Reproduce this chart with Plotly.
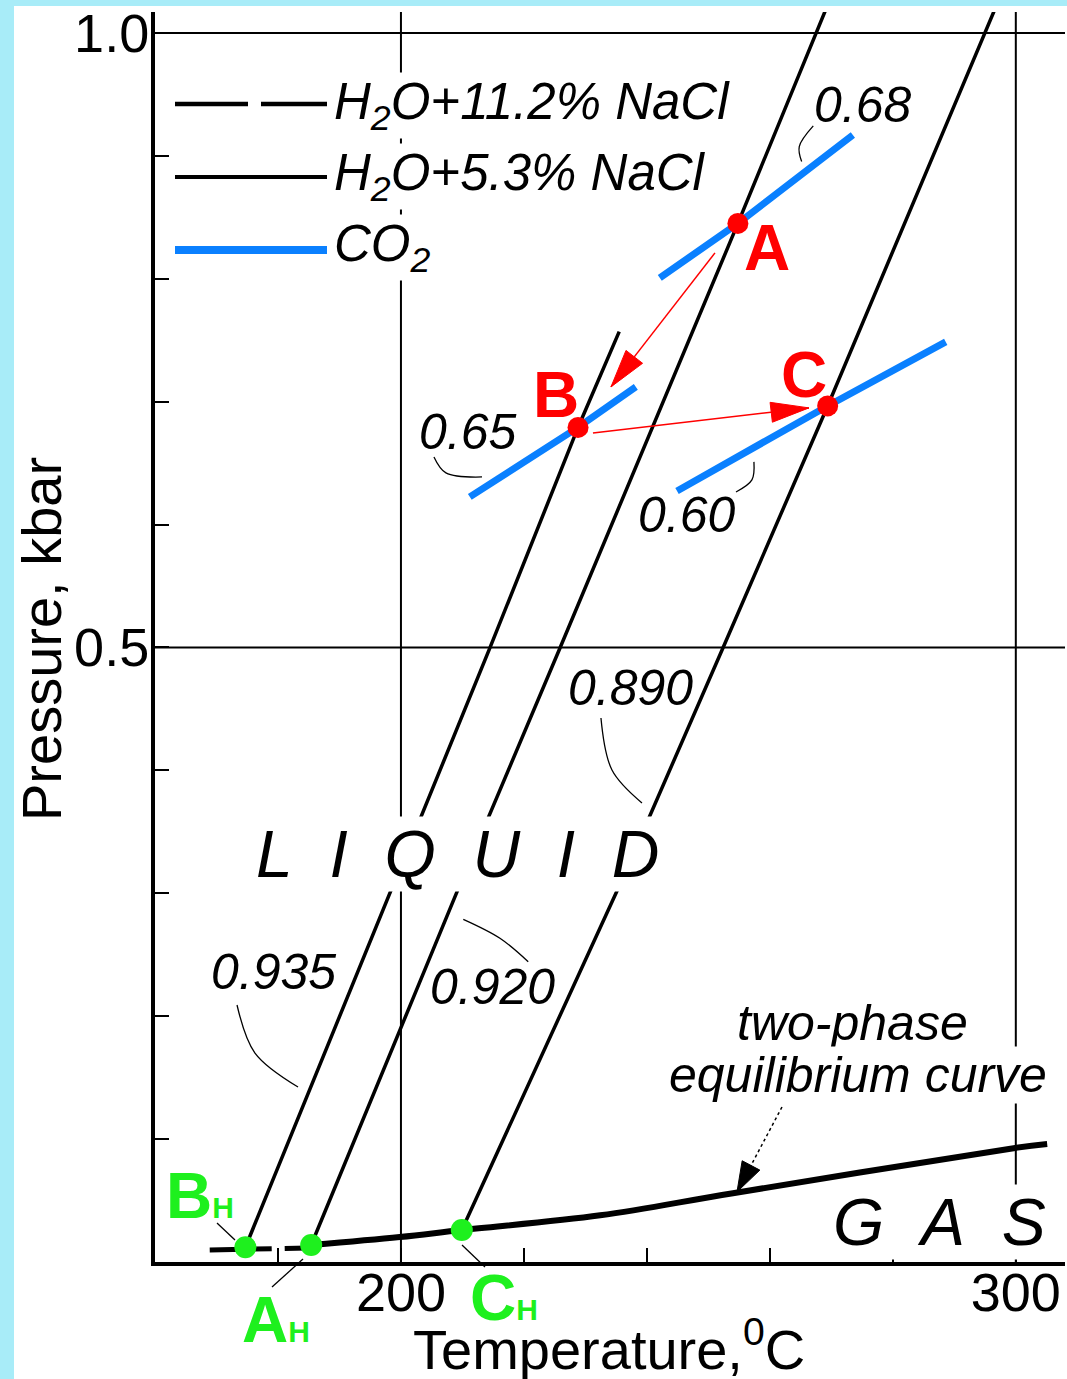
import math
import plotly.graph_objects as go

FONT = "Liberation Sans, Arial, Helvetica, sans-serif"

# ---------------- data (T in °C, P in kbar) ----------------
# isochores of the NaCl solutions (density labels)
iso_labels = ["0.935", "0.920", "0.890"]
iso1_T = [174.7, 198.7, 214.5, 228.8, 235.5]
iso1_P = [0.012, 0.307, 0.500, 0.679, 0.757]
iso2_T = [185.4, 209.6, 225.9, 254.8, 270.0]
iso2_P = [0.0138, 0.307, 0.500, 0.845, 1.030]
iso3_T = [209.9, 235.6, 252.4, 269.4, 297.5]
iso3_P = [0.026, 0.307, 0.500, 0.6965, 1.030]

# two-phase (liquid-gas) equilibrium curve
twophase_T = [185.4, 199.8, 209.9, 232.4, 254.0, 299.9, 305.1]
twophase_P = [0.0138, 0.0203, 0.026, 0.038, 0.056, 0.0928, 0.096]
twophase_112_T = [168.9, 186.8]
twophase_112_P = [0.0098, 0.0115]

# CO2 isochores
co2_labels = ["0.68", "0.65", "0.60"]
co2_068_T = [242.1, 254.8, 273.5]
co2_068_P = [0.8007, 0.845, 0.917]
co2_065_T = [211.2, 228.8, 238.2]
co2_065_P = [0.6225, 0.679, 0.712]
co2_060_T = [244.9, 269.4, 288.6]
co2_060_P = [0.6273, 0.6965, 0.7486]

# trapping points and homogenisation points
red_names = ["A", "B", "C"]
red_T = [254.8, 228.8, 269.4]
red_P = [0.845, 0.679, 0.6965]
green_names = ["B", "A", "C"]
green_T = [174.7, 185.4, 209.9]
green_P = [0.012, 0.0138, 0.026]

# arrows (tail -> tip)
arrow_AB = [(251.07, 0.821), (234.16, 0.712)]
arrow_BC = [(231.23, 0.6745), (266.36, 0.6949)]
arrow_2ph = [(261.97, 0.1261), (254.65, 0.0570)]

# curved leader lines from labels to curves
leaders = [
    ([265.17, 264.78, 267.06], [0.8953, 0.9075, 0.9243]),   # 0.68
    ([205.37, 207.32, 213.18], [0.655, 0.642, 0.6387]),     # 0.65
    ([257.41, 257.08, 254.49], [0.651, 0.6363, 0.6265]),    # 0.60
    ([232.53, 234.32, 239.20], [0.4426, 0.4003, 0.3735]),   # 0.890
    ([210.14, 216.10, 220.70], [0.2788, 0.2634, 0.2443]),   # 0.920
    ([173.34, 176.26, 183.26], [0.2091, 0.170, 0.1424]),    # 0.935
]
# straight leaders for the homogenisation labels (start, end)
hleaders = [
    ((170.08, 0.0317), (173.01, 0.0179)),
    ((179.03, -0.0203), (184.07, 0.0024)),
    ((209.93, 0.0138), (213.67, -0.0041)),
]

x_tickvals = [200, 300]
x_ticktext = ["200", "300"]
x_minor = [180, 220, 240, 260, 280]
y_tickvals = [0.5, 1.0]
y_ticktext = ["0.5", "1.0"]
y_minor = [0.1, 0.2, 0.3, 0.4, 0.6, 0.7, 0.8, 0.9]
x_grid = [200, 300]
y_grid = [0.5, 1.0]

# ---------------- layout geometry ----------------
X_RANGE = [160, 308]
Y_RANGE = [0, 1.017]
W, H = 1067, 1379
ML, MR, MT, MB = 155, 2, 12, 117
PW = W - ML - MR
PH = H - MT - MB
SX = PW / (X_RANGE[1] - X_RANGE[0])
SY = PH / (Y_RANGE[1] - Y_RANGE[0])


def head_path(tail, tip, length, width):
    tx, ty = tail
    hx, hy = tip
    dx = (hx - tx) * SX
    dy = (hy - ty) * SY
    n = math.hypot(dx, dy)
    ux, uy = dx / n, dy / n
    bx = hx * SX - ux * length
    by = hy * SY - uy * length
    nx, ny = -uy * width / 2, ux * width / 2
    p1 = ((bx + nx) / SX, (by + ny) / SY)
    p2 = ((bx - nx) / SX, (by - ny) / SY)
    return f"M {hx},{hy} L {p1[0]},{p1[1]} L {p2[0]},{p2[1]} Z"


def to_paper(T, P):
    return ((T - X_RANGE[0]) / (X_RANGE[1] - X_RANGE[0]),
            (P - Y_RANGE[0]) / (Y_RANGE[1] - Y_RANGE[0]))


fig = go.Figure()

BLACK = "black"
BLUE = "#0a80ff"
RED = "#ff0000"
GREEN = "#1ef01e"

# isochores
for T, P in [(iso1_T, iso1_P), (iso2_T, iso2_P), (iso3_T, iso3_P)]:
    fig.add_trace(go.Scatter(x=T, y=P, mode="lines",
                             line=dict(color=BLACK, width=3.5)))
# two-phase curves
fig.add_trace(go.Scatter(x=twophase_112_T, y=twophase_112_P, mode="lines",
                         line=dict(color=BLACK, width=5, dash="62px,13px")))
fig.add_trace(go.Scatter(x=twophase_T, y=twophase_P, mode="lines",
                         line=dict(color=BLACK, width=6, shape="spline")))
# CO2 isochores
for T, P in [(co2_068_T, co2_068_P), (co2_065_T, co2_065_P), (co2_060_T, co2_060_P)]:
    fig.add_trace(go.Scatter(x=T, y=P, mode="lines",
                             line=dict(color=BLUE, width=7)))
# leaders
for T, P in leaders:
    fig.add_trace(go.Scatter(x=T, y=P, mode="lines",
                             line=dict(color=BLACK, width=1.3, shape="spline")))
# arrow shafts
for (t, h), col, dash in [(arrow_AB, RED, "solid"), (arrow_BC, RED, "solid"),
                          (arrow_2ph, BLACK, "dot")]:
    fig.add_trace(go.Scatter(x=[t[0], h[0]], y=[t[1], h[1]], mode="lines",
                             line=dict(color=col, width=1.5, dash=dash)))
# points
fig.add_trace(go.Scatter(x=red_T, y=red_P, mode="markers",
                         marker=dict(color=RED, size=21)))
fig.add_trace(go.Scatter(x=green_T, y=green_P, mode="markers", cliponaxis=False,
                         marker=dict(color=GREEN, size=22)))

shapes = []
# white drawing sheet on the light blue background
shapes.append(dict(type="rect", xref="paper", yref="paper",
                   x0=(14 - ML) / PW, x1=(W + 5 - ML) / PW,
                   y0=-(H + 5 - MT - PH) / PH, y1=(PH + MT - 6) / PH,
                   fillcolor="white", line=dict(width=0), layer="below"))
# grid lines
for gx in x_grid:
    shapes.append(dict(type="line", xref="x", yref="paper", x0=gx, x1=gx, y0=0, y1=1,
                       line=dict(color=BLACK, width=2), layer="below"))
for gy in y_grid:
    shapes.append(dict(type="line", xref="paper", yref="y", x0=0, x1=1, y0=gy, y1=gy,
                       line=dict(color=BLACK, width=2), layer="below"))
# arrow heads
for (t, h), col, L, Wd in [(arrow_AB, RED, 38, 21), (arrow_BC, RED, 38, 20),
                           (arrow_2ph, BLACK, 30, 20)]:
    shapes.append(dict(type="path", xref="x", yref="y", path=head_path(t, h, L, Wd),
                       fillcolor=col, line=dict(color=col, width=1)))
# straight leaders of the homogenisation labels (cross the axis, so paper refs)
for (s, e) in hleaders:
    x0, y0 = to_paper(*s)
    x1, y1 = to_paper(*e)
    shapes.append(dict(type="line", xref="paper", yref="paper", x0=x0, y0=y0,
                       x1=x1, y1=y1, line=dict(color=BLACK, width=1.3)))


# legend samples (paper coordinates from pixel positions)
def px(xp):
    return (xp - ML) / PW


def py(yp):
    return (MT + PH - yp) / PH


shapes.append(dict(type="line", xref="paper", yref="paper", x0=px(175), x1=px(248),
                   y0=py(104), y1=py(104), line=dict(color=BLACK, width=4.5)))
shapes.append(dict(type="line", xref="paper", yref="paper", x0=px(261), x1=px(327),
                   y0=py(104), y1=py(104), line=dict(color=BLACK, width=4.5)))
shapes.append(dict(type="line", xref="paper", yref="paper", x0=px(175), x1=px(327),
                   y0=py(177), y1=py(177), line=dict(color=BLACK, width=4)))
shapes.append(dict(type="line", xref="paper", yref="paper", x0=px(175), x1=px(327),
                   y0=py(250), y1=py(250), line=dict(color=BLUE, width=8)))

ann = []


def txt(x, y, text, size, color=BLACK, bg=None, xanchor="center", xref="x", yref="y",
        angle=0):
    d = dict(x=x, y=y, xref=xref, yref=yref, text=text, showarrow=False,
             xanchor=xanchor, yanchor="middle", textangle=angle,
             font=dict(family=FONT, size=size, color=color), borderpad=0)
    if bg:
        d["bgcolor"] = bg
    ann.append(d)


def ptxt(T, P, text, size, color=BLACK):
    x, y = to_paper(T, P)
    txt(x, y, text, size, color=color, xref="paper", yref="paper")


NB = "\u00a0"
# legend texts
txt(189.0, 0.9406, "<i>H<sub>2</sub>O+11.2% NaCl</i>", 51, bg="white", xanchor="left")
txt(189.0, 0.8828, "<i>H<sub>2</sub>O+5.3% NaCl</i>", 51, bg="white", xanchor="left")
txt(189.0, 0.825, "<i>CO<sub>2</sub></i>", 51, bg="white", xanchor="left")
# density labels
txt(275.1, 0.9414, f"<i>{co2_labels[0]}</i>", 50)
txt(210.9, 0.6753, f"<i>{co2_labels[1]}</i>", 50)
txt(246.5, 0.6078, f"<i>{co2_labels[2]}</i>", 50)
txt(237.4, 0.467, f"<i>{iso_labels[2]}</i>", 50)
txt(179.35, 0.236, f"<i>{iso_labels[0]}</i>", 50)
txt(214.97, 0.2238, f"<i>{iso_labels[1]}</i>", 50)
# phase regions
sp = NB * 2
txt(209.2, 0.332, "<i>" + sp.join("LIQUID") + "</i>", 66, bg="white")
txt(287.6, 0.0325, "<i>" + sp.join("GAS") + "</i>", 66, bg="white")
txt(273.5, 0.1945, "<i>two-phase</i>", 50, bg="white")
txt(274.4, 0.152, "<i>equilibrium curve</i>", 50, bg="white")
# point labels
txt(259.5, 0.825, f"<b>{red_names[0]}</b>", 64, color=RED)
txt(225.2, 0.7055, f"<b>{red_names[1]}</b>", 64, color=RED)
txt(265.5, 0.7217, f"<b>{red_names[2]}</b>", 64, color=RED)
sub = '<span style="font-size:30px">H</span>'
ptxt(167.3, 0.0537, f"<b>{green_names[0]}{sub}</b>", 64, color=GREEN)
ptxt(179.7, -0.0472, f"<b>{green_names[1]}{sub}</b>", 64, color=GREEN)
ptxt(216.76, -0.0293, f"<b>{green_names[2]}{sub}</b>", 64, color=GREEN)
# axis titles
txt((41 - ML) / PW, py(639), "Pressure, kbar", 56, xref="paper", yref="paper", angle=-90)
txt(px(608.5), py(1345), "Temperature,<sup>0</sup>C", 56, xref="paper", yref="paper")

fig.update_traces(showlegend=False, hoverinfo="skip")
tick_common = dict(ticks="inside", ticklen=14, tickwidth=2, tickcolor=BLACK)
fig.update_layout(
    width=W, height=H, autosize=False,
    margin=dict(l=ML, r=MR, t=MT, b=MB, pad=0),
    paper_bgcolor="#a8ecf8", plot_bgcolor="white",
    font=dict(family=FONT, size=54, color=BLACK),
    shapes=shapes, annotations=ann,
    xaxis=dict(range=X_RANGE, showgrid=False, zeroline=False, showline=True,
               linecolor=BLACK, linewidth=4, tickvals=x_tickvals, ticktext=x_ticktext,
               tickfont=dict(family=FONT, size=54), ticklabelstandoff=-20,
               minor=dict(tickvals=x_minor, showgrid=False, **tick_common),
               **tick_common),
    yaxis=dict(range=Y_RANGE, showgrid=False, zeroline=False, showline=True,
               linecolor=BLACK, linewidth=4, tickvals=y_tickvals, ticktext=y_ticktext,
               tickfont=dict(family=FONT, size=54), ticklabelstandoff=-9,
               minor=dict(tickvals=y_minor, showgrid=False, **tick_common),
               **tick_common),
)

fig.write_html("out.html", config={"displayModeBar": False},
               post_script="document.body.style.margin='0px';"
                           "document.documentElement.style.margin='0px';")
